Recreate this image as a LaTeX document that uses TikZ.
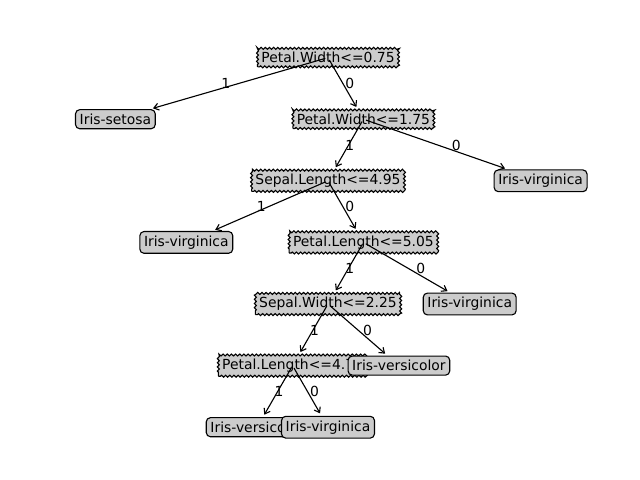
\documentclass[tikz,border=0pt]{standalone}
\usepackage{fontspec}
\setmainfont{DejaVu Sans}
\usetikzlibrary{calc,arrows.meta,decorations.pathmorphing}
\definecolor{boxgray}{gray}{0.8}

\begin{document}
\begin{tikzpicture}[
  x=0.72pt, y=-0.72pt,
  font=\fontsize{10}{12}\selectfont,
  decision/.style={draw, fill=boxgray, line width=0.8pt, inner sep=2.8pt,
    decorate, decoration={zigzag, segment length=3pt, amplitude=0.7pt,
      pre length=1.5pt, post length=1.5pt}},
  leaf/.style={draw, fill=boxgray, line width=0.8pt, inner sep=3pt, rounded corners=3pt},
  edge/.style={line width=0.8pt, shorten <=2pt, shorten >=2pt,
    -{Straight Barb[length=3.5pt,width=5pt]}},
  elabel/.style={inner sep=0pt, xshift=3pt, yshift=3.5pt}]

    \useasboundingbox (0,0) rectangle (640,480);

    \node[decision] at (328, 57.6) (pw1) {Petal.Width<=0.75};

    \node[leaf] at (115.4,119.2) (setosa) {Iris-setosa};
    \draw[edge] (pw1.center) -- (setosa);
    \node[elabel] at ($(pw1)!.5!(setosa)$) (l1) {1};

    \node[decision] at (363.4,119.2) (pw2) {Petal.Width<=1.75};
    \node[elabel] at ($(pw1)!.5!(pw2)$) (l2) {0};
    \draw[edge] (pw1.center) -- (pw2);

    \node[decision] at (328,180.8) (sl) {Sepal.Length<=4.95};
    \node[elabel] at ($(pw2)!.5!(sl)$) (l3) {1};
    \draw[edge] (pw2.center) -- (sl);

    \node[leaf] at (186.3,242.4) (virg1) {Iris-virginica};
    \draw[edge] (sl.center) -- (virg1);
    \node[elabel] at ($(sl)!.5!(virg1)$) (l4) {1};

    \node[decision] at (363.4,242.4) (pl1) {Petal.Length<=5.05};
    \node[elabel] at ($(sl)!.5!(pl1)$) (l5) {0};
    \draw[edge] (sl.center) -- (pl1);

    \node[decision] at (328,304) (sw) {Sepal.Width<=2.25};
    \node[elabel] at ($(pl1)!.5!(sw)$) (l6) {1};
    \draw[edge] (pl1.center) -- (sw);

    \node[decision] at (292.6,365.6) (pl2) {Petal.Length<=4.75};
    \node[elabel] at ($(sw)!.5!(pl2)$) (l7) {1};
    \draw[edge] (sw.center) -- (pl2);

    \node[leaf] at (257.1,427.2) (vers1) {Iris-versicolor};
    \draw[edge] (pl2.center) -- (vers1);
    \node[elabel] at ($(pl2)!.5!(vers1)$) (l8) {1};

    \node[leaf] at (328,427.2) (virg2) {Iris-virginica};
    \draw[edge] (pl2.center) -- (virg2);
    \node[elabel] at ($(pl2)!.5!(virg2)$) (l9) {0};

    \node[leaf] at (398.9,365.6) (vers2) {Iris-versicolor};
    \draw[edge] (sw.center) -- (vers2);
    \node[elabel] at ($(sw)!.5!(vers2)$) (l10) {0};

    \node[leaf] at (469.7,304) (virg3) {Iris-virginica};
    \draw[edge] (pl1.center) -- (virg3);
    \node[elabel] at ($(pl1)!.5!(virg3)$) (l11) {0};

    \node[leaf] at (540.6,180.8) (virg4) {Iris-virginica};
    \draw[edge] (pw2.center) -- (virg4);
    \node[elabel] at ($(pw2)!.5!(virg4)$) (l12) {0};

\end{tikzpicture}
\end{document}
